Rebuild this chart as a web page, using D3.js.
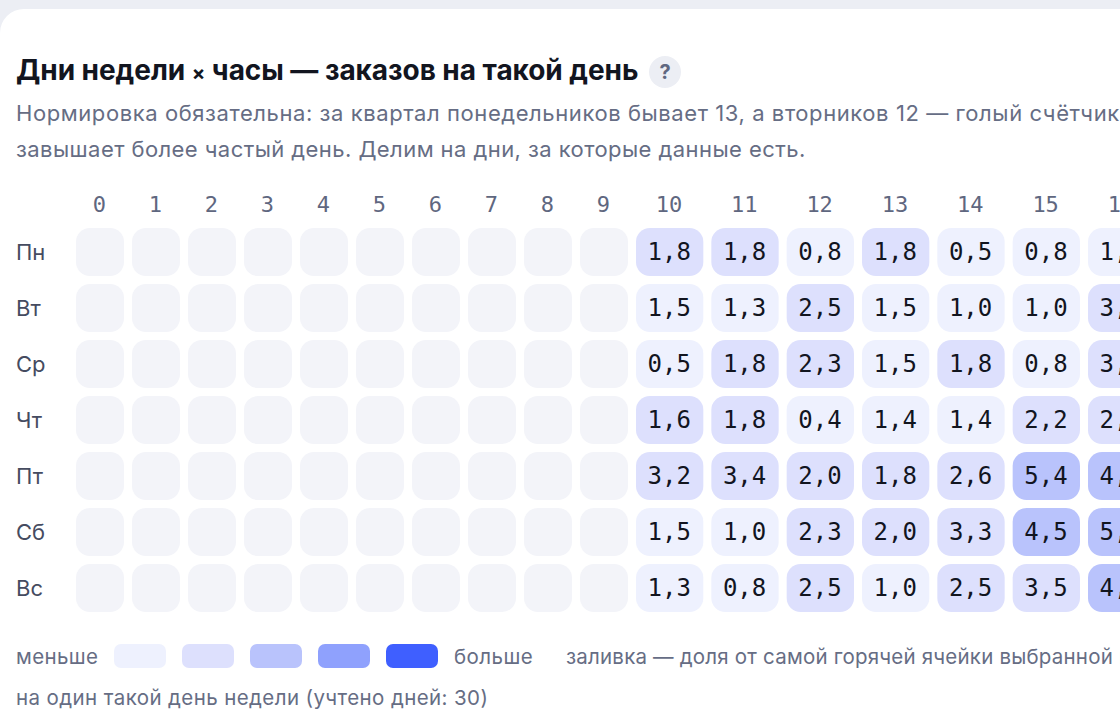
<!DOCTYPE html>
<html><head><meta charset="utf-8">
<script src="https://cdn.jsdelivr.net/npm/d3@7/dist/d3.min.js"></script>
<style>
html,body{margin:0;padding:0;background:#eceef4;overflow:hidden;width:1120px;height:720px}
svg{display:block}
text{font-family:Inter,sans-serif}
.mono{font-family:"DejaVu Sans Mono",monospace}
</style></head><body><svg id="c" width="1120" height="720"></svg>
<script>
const days = ["Пн","Вт","Ср","Чт","Пт","Сб","Вс"];
const hours = [0,1,2,3,4,5,6,7,8,9,10,11,12,13,14,15,16];
const valsMon = [null,null,null,null,null,null,null,null,null,null,1.8,1.8,0.8,1.8,0.5,0.8,1.3];
const valsTue = [null,null,null,null,null,null,null,null,null,null,1.5,1.3,2.5,1.5,1.0,1.0,3.0];
const valsWed = [null,null,null,null,null,null,null,null,null,null,0.5,1.8,2.3,1.5,1.8,0.8,3.0];
const valsThu = [null,null,null,null,null,null,null,null,null,null,1.6,1.8,0.4,1.4,1.4,2.2,2.4];
const valsFri = [null,null,null,null,null,null,null,null,null,null,3.2,3.4,2.0,1.8,2.6,5.4,4.2];
const valsSat = [null,null,null,null,null,null,null,null,null,null,1.5,1.0,2.3,2.0,3.3,4.5,5.0];
const valsSun = [null,null,null,null,null,null,null,null,null,null,1.3,0.8,2.5,1.0,2.5,3.5,4.5];
const rows = [valsMon,valsTue,valsWed,valsThu,valsFri,valsSat,valsSun];
const levelColors = ["#eef1fe","#dde0fd","#b9c3fc","#8fa1fd","#3f5fff"];
const levelBreaks = [1.55,4,6,8];
const emptyColor = "#f3f4f9";
const titleParts = ["Дни недели ","×"," часы — заказов на такой день"];
const subLines = ["Нормировка обязательна: за квартал понедельников бывает 13, а вторников 12 — голый счётчик","завышает более частый день. Делим на дни, за которые данные есть."];
const legendLow = "меньше", legendHigh = "больше";
const legendNote = "заливка — доля от самой горячей ячейки выбранной метрики";
const legendNote2 = "на один такой день недели (учтено дней: 30)";

const svg = d3.select("#c");
svg.append("rect").attr("x",0).attr("y",9).attr("width",1160).attr("height",760).attr("rx",24).attr("fill","#fff");

const x = d3.scaleLinear().domain([0,9,10,16]).range([76,580,636,1088]);
const cellW = h => h<10 ? 48 : 67.33;
const y = d3.scaleBand().domain(days).range([228,612]).paddingInner(8/56).paddingOuter(0);
const color = d3.scaleThreshold().domain(levelBreaks).range(levelColors);
const fmt = v => d3.format(".1f")(v).replace(".",",");

const title = svg.append("text").attr("x",16).attr("y",80).attr("font-size",28).attr("font-weight",700).attr("letter-spacing",-0.05).attr("fill","#12151f");
title.selectAll("tspan").data(titleParts).join("tspan").attr("font-size",(d,i)=>i===1?20:28).text(d=>d);
svg.append("circle").attr("cx",665).attr("cy",72).attr("r",16).attr("fill","#eceef4");
svg.append("text").attr("x",665).attr("y",79).attr("text-anchor","middle").attr("font-size",20).attr("font-weight",700).attr("fill","#5f6780").text("?");
svg.selectAll("text.sub").data(subLines).join("text").attr("class","sub").attr("x",16).attr("y",(d,i)=>121+i*36).attr("font-size",22).attr("letter-spacing",(d,i)=>i?0.43:0.58).attr("fill","#666d84").text(d=>d);

svg.selectAll("text.hr").data(hours).join("text").attr("class","hr mono").attr("x",h=>x(h)+cellW(h)/2-0.7).attr("y",212).attr("text-anchor","middle").attr("font-size",22).attr("fill","#5f6780").text(h=>h);
svg.selectAll("text.day").data(days).join("text").attr("class","day").attr("x",16).attr("y",d=>y(d)+32).attr("font-size",22).attr("fill","#454b60").text(d=>d);

const g = svg.selectAll("g.row").data(rows).join("g").attr("class","row").attr("transform",(r,i)=>`translate(0,${y(days[i])})`);
const cell = g.selectAll("g.cell").data(r=>r.map((v,i)=>({v,h:hours[i]}))).join("g").attr("class","cell");
cell.append("rect").attr("x",d=>x(d.h)).attr("width",d=>cellW(d.h)).attr("height",y.bandwidth()).attr("rx",14)
  .attr("fill",d=>d.v==null?emptyColor:color(d.v));
cell.filter(d=>d.v!=null).append("text").attr("class","mono").attr("x",d=>x(d.h)+cellW(d.h)/2-0.4).attr("y",32).attr("text-anchor","middle").attr("font-size",24).attr("fill","#12151f").text(d=>fmt(d.v));

const sw = d3.scaleBand().domain(levelColors).range([114,438]).paddingInner(16/68).paddingOuter(0);
svg.selectAll("rect.sw").data(levelColors).join("rect").attr("class","sw").attr("x",d=>sw(d)).attr("y",644).attr("width",sw.bandwidth()).attr("height",24).attr("rx",7).attr("fill",d=>d);
const note = [[16,664,legendLow,0.35],[454,664,legendHigh,0.45],[566,664,legendNote,0.2],[16,705,legendNote2,0.4]];
svg.selectAll("text.n").data(note).join("text").attr("class","n").attr("x",d=>d[0]).attr("y",d=>d[1]).attr("font-size",20.5).attr("letter-spacing",d=>d[3]).attr("fill","#666d84").text(d=>d[2]);
</script></body></html>
